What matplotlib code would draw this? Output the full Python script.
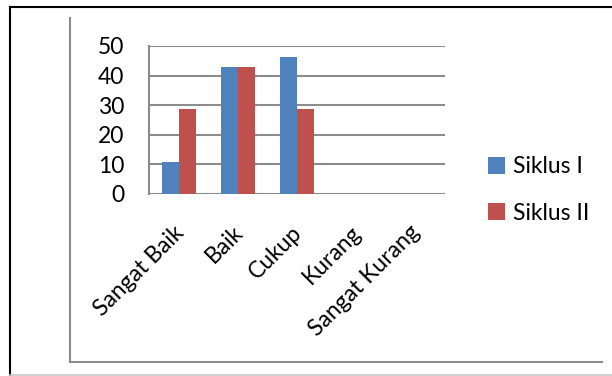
import matplotlib
matplotlib.use("Agg")
import matplotlib.pyplot as plt
from matplotlib.lines import Line2D
import numpy as np

# data (percent of 28 students)
categories = ['Sangat Baik', 'Baik', 'Cukup', 'Kurang', 'Sangat Kurang']
siklus_1 = [10.71, 42.86, 46.43, 0, 0]
siklus_2 = [28.57, 42.86, 28.57, 0, 0]
series_names = ['Siklus I', 'Siklus II']
yticks = [0, 10, 20, 30, 40, 50]

blue = '#4F81BD'
red = '#C0504D'
grid_gray = '#8C8C8C'

plt.rcParams['font.family'] = ['Lato', 'DejaVu Sans']

W, H = 612, 376
fig = plt.figure(figsize=(W / 100, H / 100), dpi=100)

# outer frame lines (figure pixel coords -> fraction)
def fx(px):
    return px / W

def fy(py):
    return 1 - py / H

fig.add_artist(Line2D([fx(10), fx(10)], [fy(7), fy(376)], color='black', lw=1.5))
fig.add_artist(Line2D([fx(10), fx(612)], [fy(7), fy(7)], color='black', lw=1.5))
fig.add_artist(Line2D([fx(10), fx(612)], [fy(375), fy(375)], color='#C8C8C8', lw=1.2))
# inner chart frame
fig.add_artist(Line2D([fx(70), fx(70)], [fy(18), fy(362)], color=grid_gray, lw=1.5))
fig.add_artist(Line2D([fx(70), fx(602)], [fy(362), fy(362)], color=grid_gray, lw=1.5))

ax = fig.add_axes([fx(149), fy(194), fx(445) - fx(149), fy(46) - fy(194)])

x = np.arange(len(categories))
bw = 1 / 3.5  # excel gap width 150%
ax.bar(x - bw / 2, siklus_1, bw, color=blue, label=series_names[0], zorder=3)
ax.bar(x + bw / 2, siklus_2, bw, color=red, label=series_names[1], zorder=3)

ax.set_xlim(-0.5, len(categories) - 0.5)
ax.set_ylim(0, 50)
ax.set_yticks(yticks)
ax.set_yticklabels([str(v) for v in yticks], fontsize=16.5)
ax.tick_params(axis='y', length=0, pad=18)
ax.tick_params(axis='x', length=0, pad=20)
ax.set_xticks(x - 0.1)
ax.set_xticklabels(categories, fontsize=16.5, rotation=45, ha='right',
                   va='top', rotation_mode='anchor')

ax.grid(axis='y', color=grid_gray, lw=1.5, zorder=0)
for s in ['top', 'right', 'bottom']:
    ax.spines[s].set_visible(False)
ax.spines['left'].set_color(grid_gray)
ax.spines['left'].set_linewidth(1.5)

ax.legend(loc='center left', bbox_to_anchor=(fx(467), fy(190)), bbox_transform=fig.transFigure,
          frameon=False, fontsize=16.5, handlelength=0.75, handleheight=0.75,
          handletextpad=0.35, labelspacing=1.1)

fig.savefig('out.png', dpi=100)
